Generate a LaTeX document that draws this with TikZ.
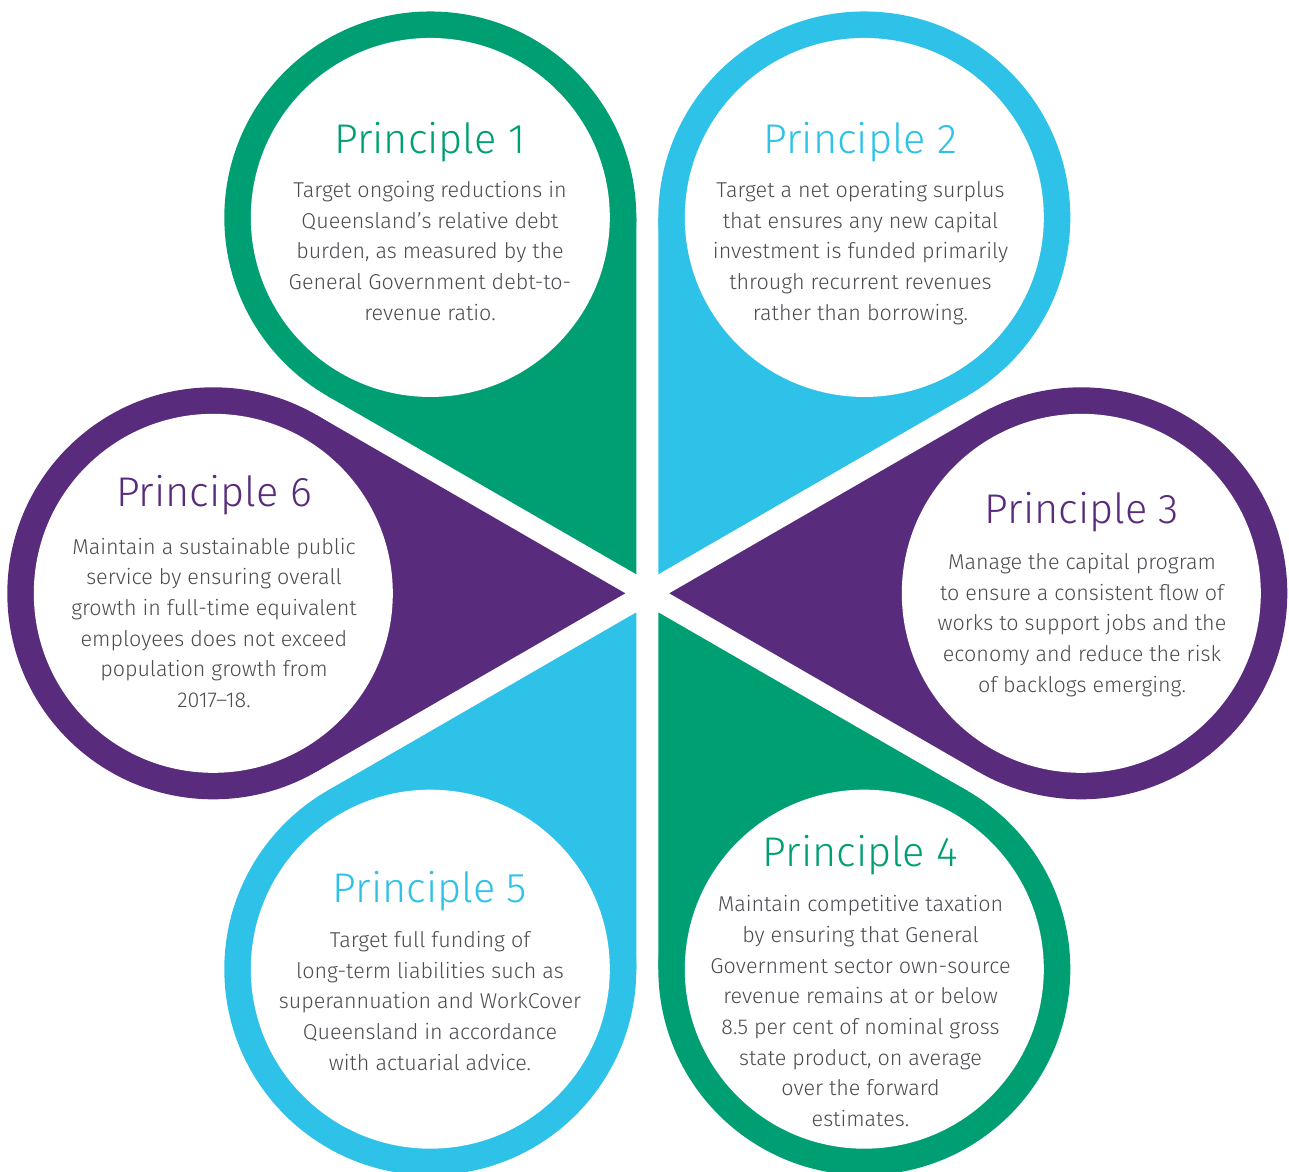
\documentclass[tikz,border=0pt]{standalone}
\usepackage{fontspec}
\setmainfont{Fira Sans Light}
\usetikzlibrary{calc}
\definecolor{pgreen}{RGB}{0,159,115}
\definecolor{pcyan}{RGB}{46,194,233}
\definecolor{ppurple}{RGB}{89,43,124}
\definecolor{ptext}{RGB}{75,75,80}
\tikzset{
  ptitle/.style={anchor=base, inner sep=0pt, font=\fontsize{41.5}{46}\selectfont},
  pbody/.style={anchor=base, inner sep=0pt, text=ptext},
}
\newcommand{\bodytext}[1]{\parbox[t]{400pt}{\centering\fontsize{21.5}{30.7}\selectfont #1}}
\begin{document}
\begin{tikzpicture}[x=1pt,y=-1pt]
\useasboundingbox (0,0) rectangle (1289,1171);
\clip (0,0) rectangle (1289,1171);
\coordinate (C) at (647.3,593.3);
\foreach \ang/\col in {0/ppurple,60/pgreen,120/pcyan,180/ppurple,240/pgreen,300/pcyan}{
  \coordinate (pc) at ($(C)+(\ang:434)$);
  \fill[\col] (pc) circle[radius=206pt];
  \fill[\col] ($(C)+(\ang:22)$) -- ($(pc)+(\ang+120:206)$) -- (pc) -- ($(pc)+(\ang+240:206)$) -- cycle;
  \fill[white] (pc) circle[radius=179.5pt];
}
% Principle 1
\node[ptitle, text=pgreen] (t1) at (430,153) {Principle 1};
\node[pbody] (b1) at (430,197.5) {\bodytext{Target ongoing reductions in\\Queensland’s relative debt\\burden, as measured by the\\General Government debt-to-\\revenue ratio.}};
% Principle 2
\node[ptitle, text=pcyan] (t2) at (860.5,153) {Principle 2};
\node[pbody] (b2) at (860.5,197.5) {\bodytext{Target a net operating surplus\\that ensures any new capital\\investment is funded primarily\\through recurrent revenues\\rather than borrowing.}};
% Principle 3
\node[ptitle, text=ppurple] (t3) at (1082,523.3) {Principle 3};
\node[pbody] (b3) at (1082,569.3) {\bodytext{Manage the capital program\\to ensure a consistent flow of\\works to support jobs and the\\economy and reduce the risk\\of backlogs emerging.}};
% Principle 4
\node[ptitle, text=pgreen] (t4) at (860.5,866.7) {Principle 4};
\node[pbody] (b4) at (860.5,911.7) {\bodytext{Maintain competitive taxation\\by ensuring that General\\Government sector own-source\\revenue remains at or below\\8.5 per cent of nominal gross\\state product, on average\\over the forward\\estimates.}};
% Principle 5
\node[ptitle, text=pcyan] (t5) at (430,902) {Principle 5};
\node[pbody] (b5) at (430,947.3) {\bodytext{Target full funding of\\long-term liabilities such as\\superannuation and WorkCover\\Queensland in accordance\\with actuarial advice.}};
% Principle 6
\node[ptitle, text=ppurple] (t6) at (214,506.7) {Principle 6};
\node[pbody] (b6) at (214,554) {\bodytext{Maintain a sustainable public\\service by ensuring overall\\growth in full-time equivalent\\employees does not exceed\\population growth from\\2017–18.}};
\end{tikzpicture}
\end{document}
